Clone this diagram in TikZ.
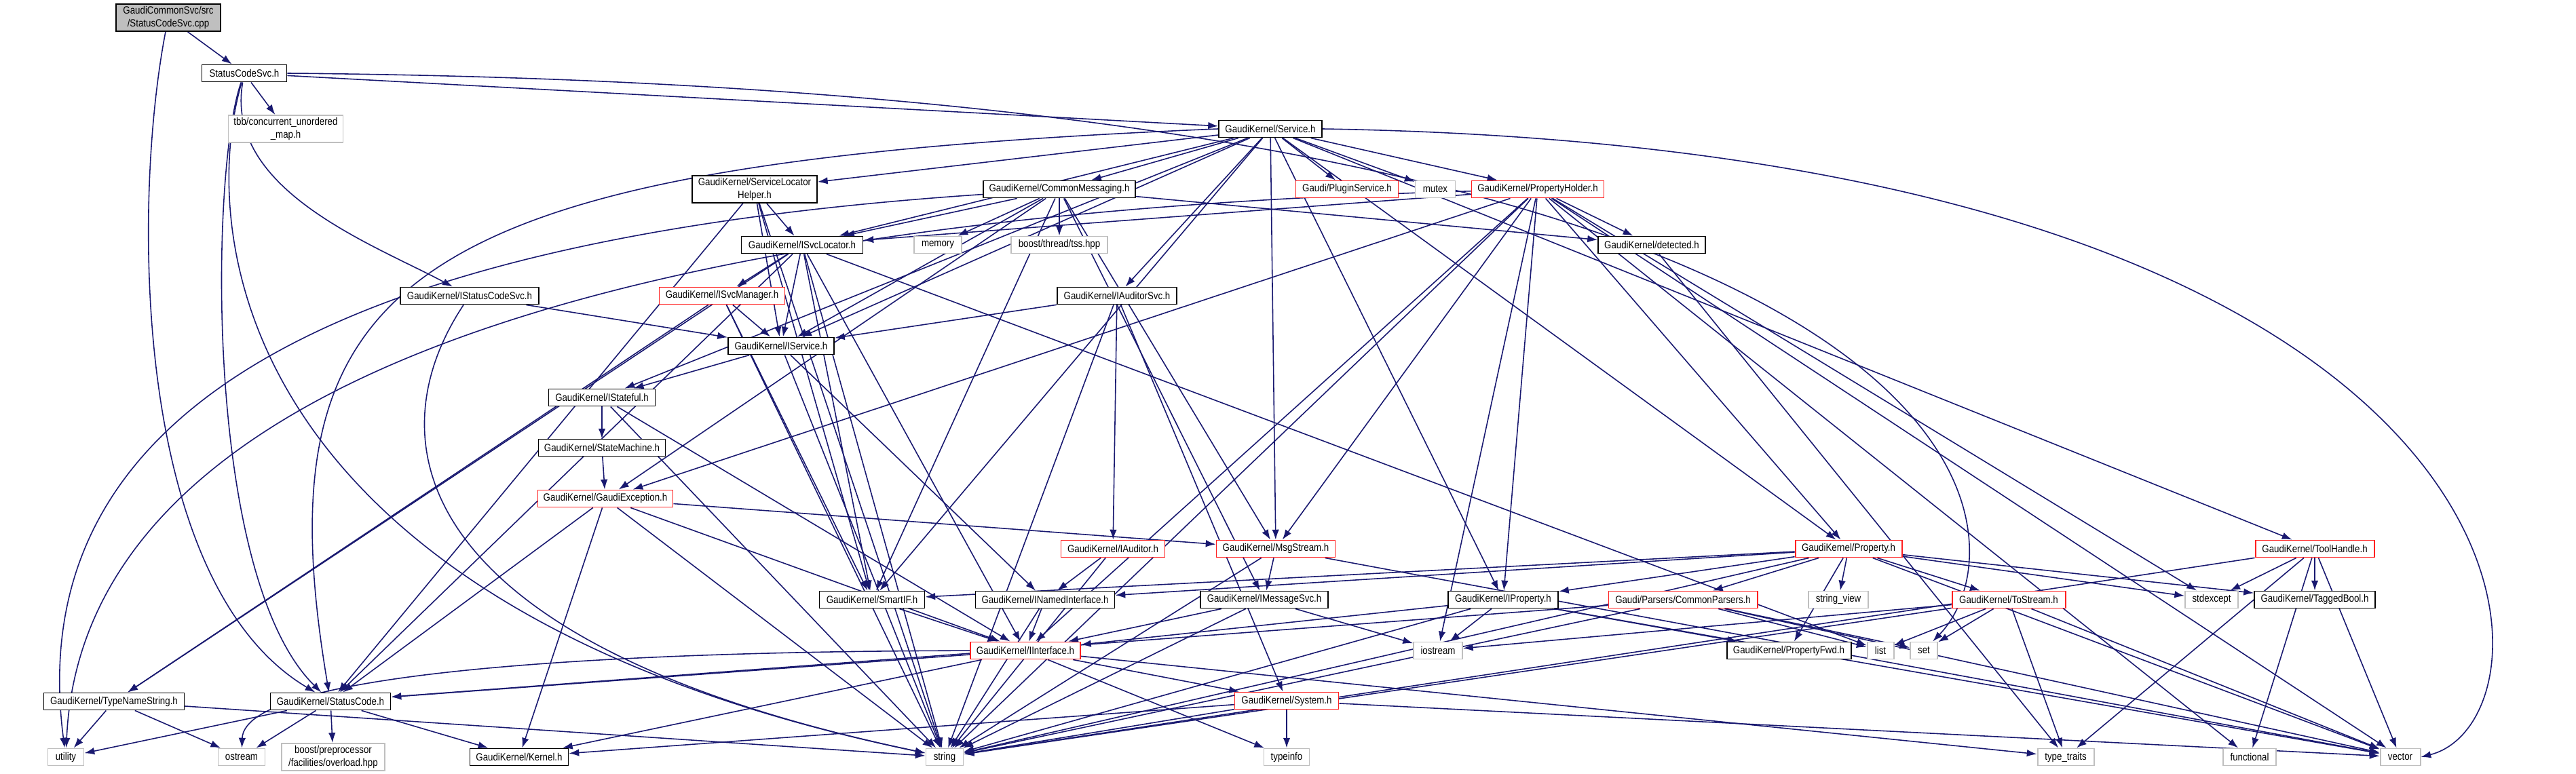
\documentclass[tikz,border=0pt]{standalone}
\usepackage{fontspec}
\setmainfont{Liberation Sans}[FakeStretch=0.86]
\usetikzlibrary{arrows.meta,backgrounds}
\definecolor{navy}{HTML}{191970}
\definecolor{grey75}{HTML}{BFBFBF}
\definecolor{truncred}{HTML}{FF2020}

\begin{document}
\begin{tikzpicture}
	\tikzstyle{box} = [rectangle, fill=white, line width=0.55pt, inner sep=0pt, minimum height=0.25cm, align=center, font=\fontsize{4.4}{5.2}\selectfont]
	\tikzstyle{hdr} = [box, draw=black]
	\tikzstyle{trunc} = [box, draw=truncred]
	\tikzstyle{sys} = [box, draw=grey75]
	\tikzstyle{root} = [box, draw=black, fill=grey75]
	\tikzstyle{dep} = [draw=navy, line width=0.45pt, -{Latex[length=4.2pt,width=3pt]}]
	\useasboundingbox (0,0) rectangle (37.96,-11.41);
	% files
	\node[root, minimum width=1.54cm, minimum height=0.40cm] (cpp) at (2.48, -0.26) {GaudiCommonSvc/src\\/StatusCodeSvc.cpp};
	\node[hdr, minimum width=1.25cm] (scsvc) at (3.60, -1.08) {StatusCodeSvc.h};
	\node[sys, minimum width=1.69cm, minimum height=0.40cm] (tbb) at (4.21, -1.90) {tbb/concurrent\_unordered\\\_map.h};
	\node[hdr, minimum width=1.52cm] (service) at (18.72, -1.90) {GaudiKernel/Service.h};
	\node[hdr, minimum width=1.84cm, minimum height=0.40cm] (slh) at (11.12, -2.79) {GaudiKernel/ServiceLocator\\Helper.h};
	\node[hdr, minimum width=2.24cm] (commsg) at (15.61, -2.79) {GaudiKernel/CommonMessaging.h};
	\node[trunc, minimum width=1.51cm] (plugin) at (19.85, -2.79) {Gaudi/PluginService.h};
	\node[sys, minimum width=0.59cm] (mutex) at (21.15, -2.79) {mutex};
	\node[trunc, minimum width=1.95cm] (propholder) at (22.66, -2.79) {GaudiKernel/PropertyHolder.h};
	\node[hdr, minimum width=1.79cm] (isvcloc) at (11.82, -3.61) {GaudiKernel/ISvcLocator.h};
	\node[sys, minimum width=0.70cm] (memory) at (13.82, -3.61) {memory};
	\node[sys, minimum width=1.42cm] (tss) at (15.61, -3.61) {boost/thread/tss.hpp};
	\node[hdr, minimum width=1.58cm] (detected) at (24.34, -3.61) {GaudiKernel/detected.h};
	\node[hdr, minimum width=2.04cm] (istatus) at (6.92, -4.36) {GaudiKernel/IStatusCodeSvc.h};
	\node[trunc, minimum width=1.85cm] (isvcmgr) at (10.64, -4.36) {GaudiKernel/ISvcManager.h};
	\node[hdr, minimum width=1.76cm] (iauditorsvc) at (16.46, -4.36) {GaudiKernel/IAuditorSvc.h};
	\node[hdr, minimum width=1.56cm] (iservice) at (11.51, -5.10) {GaudiKernel/IService.h};
	\node[hdr, minimum width=1.57cm] (istateful) at (8.87, -5.86) {GaudiKernel/IStateful.h};
	\node[hdr, minimum width=1.87cm] (statemachine) at (8.87, -6.60) {GaudiKernel/StateMachine.h};
	\node[trunc, minimum width=1.99cm] (gexception) at (8.92, -7.35) {GaudiKernel/GaudiException.h};
	\node[trunc, minimum width=1.53cm] (iauditor) at (16.40, -8.09) {GaudiKernel/IAuditor.h};
	\node[trunc, minimum width=1.75cm] (msgstream) at (18.80, -8.09) {GaudiKernel/MsgStream.h};
	\node[trunc, minimum width=1.57cm] (property) at (27.24, -8.09) {GaudiKernel/Property.h};
	\node[trunc, minimum width=1.75cm] (toolhandle) at (34.11, -8.09) {GaudiKernel/ToolHandle.h};
	\node[hdr, minimum width=1.55cm] (smartif) at (12.85, -8.84) {GaudiKernel/SmartIF.h};
	\node[hdr, minimum width=2.05cm] (inamed) at (15.40, -8.84) {GaudiKernel/INamedInterface.h};
	\node[hdr, minimum width=1.88cm] (imsgsvc) at (18.63, -8.84) {GaudiKernel/IMessageSvc.h};
	\node[hdr, minimum width=1.62cm] (iproperty) at (22.15, -8.84) {GaudiKernel/IProperty.h};
	\node[trunc, minimum width=2.19cm] (parsers) at (24.80, -8.84) {Gaudi/Parsers/CommonParsers.h};
	\node[sys, minimum width=0.88cm] (stringview) at (27.09, -8.84) {string\_view};
	\node[trunc, minimum width=1.67cm] (tostream) at (29.60, -8.84) {GaudiKernel/ToStream.h};
	\node[sys, minimum width=0.78cm] (stdexcept) at (32.59, -8.84) {stdexcept};
	\node[hdr, minimum width=1.78cm] (taggedbool) at (34.11, -8.84) {GaudiKernel/TaggedBool.h};
	\node[trunc, minimum width=1.62cm] (iinterface) at (15.11, -9.59) {GaudiKernel/IInterface.h};
	\node[sys, minimum width=0.72cm] (iostream) at (21.19, -9.59) {iostream};
	\node[hdr, minimum width=1.83cm] (propfwd) at (26.36, -9.59) {GaudiKernel/PropertyFwd.h};
	\node[sys, minimum width=0.39cm] (list) at (27.71, -9.59) {list};
	\node[sys, minimum width=0.40cm] (set) at (28.35, -9.59) {set};
	\node[hdr, minimum width=2.07cm] (typename) at (1.68, -10.34) {GaudiKernel/TypeNameString.h};
	\node[hdr, minimum width=1.77cm] (statuscode) at (4.87, -10.34) {GaudiKernel/StatusCode.h};
	\node[trunc, minimum width=1.53cm] (system) at (18.96, -10.33) {GaudiKernel/System.h};
	\node[sys, minimum width=0.53cm] (utility) at (0.97, -11.16) {utility};
	\node[sys, minimum width=0.69cm] (ostream) at (3.56, -11.16) {ostream};
	\node[sys, minimum width=1.52cm, minimum height=0.40cm] (overload) at (4.91, -11.16) {boost/preprocessor\\/facilities/overload.hpp};
	\node[hdr, minimum width=1.45cm] (kernel) at (7.65, -11.16) {GaudiKernel/Kernel.h};
	\node[sys, minimum width=0.55cm] (string) at (13.92, -11.16) {string};
	\node[sys, minimum width=0.67cm] (typeinfo) at (18.96, -11.16) {typeinfo};
	\node[sys, minimum width=0.83cm] (typetraits) at (30.44, -11.16) {type\_traits};
	\node[sys, minimum width=0.78cm] (functional) at (33.15, -11.16) {functional};
	\node[sys, minimum width=0.59cm] (vector) at (35.37, -11.16) {vector};
	% includes
	\begin{pgfonlayer}{background}
	\draw [dep] (cpp)--(scsvc);
	\draw [dep] (cpp) .. controls (1.95,-3.0) and (1.95,-8.6) .. (statuscode);
	\draw [dep] (scsvc)--(tbb);
	\draw [dep] (scsvc) .. controls (3.3,-2.8) and (5.5,-3.6) .. (istatus);
	\draw [dep] (scsvc)--(service);
	\draw [dep] (scsvc) .. controls (3.1,-2.5) and (3.0,-8.5) .. (statuscode);
	\draw [dep] (scsvc) .. controls (2.9,-3.5) and (3.5,-9.0) .. (string);
	\draw [dep] (scsvc.east) .. controls (29.9,-1.3) and (29.9,-8.0) .. (set);
	\draw [dep] (istatus)--(iservice);
	\draw [dep] (istatus) .. controls (5.5,-6.5) and (6.0,-9.5) .. (string);
	\draw [dep] (service)--(slh);
	\draw [dep] (service)--(commsg);
	\draw [dep] (service)--(isvcloc);
	\draw [dep] (service)--(plugin);
	\draw [dep] (service)--(mutex);
	\draw [dep] (service)--(propholder);
	\draw [dep] (service)--(istateful);
	\draw [dep] (service)--(iservice);
	\draw [dep] (service)--(iauditorsvc);
	\draw [dep] (service)--(smartif);
	\draw [dep] (service)--(iproperty);
	\draw [dep] (service)--(property);
	\draw [dep] (service)--(toolhandle);
	\draw [dep] (service)--(msgstream);
	\draw [dep] (service.west) .. controls (6.0,-2.4) and (3.8,-4.0) .. (statuscode);
	\draw [dep] (service.east) .. controls (37.9,-2.2) and (37.9,-10.6) .. (vector.east);
	\draw [dep] (slh)--(isvcloc);
	\draw [dep] (slh)--(iservice);
	\draw [dep] (slh)--(smartif);
	\draw [dep] (slh)--(string);
	\draw [dep] (slh)--(statuscode);
	\draw [dep] (commsg)--(isvcloc);
	\draw [dep] (commsg)--(iservice);
	\draw [dep] (commsg)--(memory);
	\draw [dep] (commsg)--(tss);
	\draw [dep] (commsg)--(detected);
	\draw [dep] (commsg)--(gexception);
	\draw [dep] (commsg)--(msgstream);
	\draw [dep] (commsg)--(smartif);
	\draw [dep] (commsg)--(imsgsvc);
	\draw [dep] (commsg) .. controls (5.0,-3.5) and (0.3,-6.0) .. (utility);
	\draw [dep] (propholder)--(isvcloc);
	\draw [dep] (propholder)--(iproperty);
	\draw [dep] (propholder)--(property);
	\draw [dep] (propholder)--(detected);
	\draw [dep] (propholder)--(gexception);
	\draw [dep] (propholder)--(iinterface);
	\draw [dep] (propholder)--(msgstream);
	\draw [dep] (propholder)--(iostream);
	\draw [dep] (propholder)--(string);
	\draw [dep] (propholder)--(stdexcept);
	\draw [dep] (propholder)--(vector);
	\draw [dep] (propholder)--(functional);
	\draw [dep] (propholder) .. controls (8.0,-3.2) and (1.2,-6.0) .. (utility);
	\draw [dep] (isvcloc)--(isvcmgr);
	\draw [dep] (isvcloc)--(iservice);
	\draw [dep] (isvcloc)--(smartif);
	\draw [dep] (isvcloc)--(iinterface);
	\draw [dep] (isvcloc)--(statuscode);
	\draw [dep] (isvcloc)--(typename);
	\draw [dep] (isvcloc)--(string);
	\draw [dep] (isvcloc)--(list);
	\draw [dep] (isvcmgr)--(iservice);
	\draw [dep] (isvcmgr)--(smartif);
	\draw [dep] (isvcmgr)--(typename);
	\draw [dep] (isvcmgr)--(string);
	\draw [dep] (iservice)--(istateful);
	\draw [dep] (iservice)--(inamed);
	\draw [dep] (iservice)--(string);
	\draw [dep] (istateful)--(statemachine);
	\draw [dep] (istateful)--(iinterface);
	\draw [dep] (istateful)--(string);
	\draw [dep] (statemachine)--(gexception);
	\draw [dep] (gexception)--(msgstream);
	\draw [dep] (gexception)--(statuscode);
	\draw [dep] (gexception)--(kernel);
	\draw [dep] (gexception)--(string);
	\draw [dep] (gexception)--(iinterface);
	\draw [dep] (iauditorsvc)--(iservice);
	\draw [dep] (iauditorsvc)--(iauditor);
	\draw [dep] (iauditorsvc)--(string);
	\draw [dep] (iauditorsvc)--(system);
	\draw [dep] (iauditor)--(inamed);
	\draw [dep] (iauditor)--(string);
	\draw [dep] (msgstream)--(imsgsvc);
	\draw [dep] (msgstream)--(string);
	\draw [dep] (msgstream)--(vector);
	\draw [dep] (imsgsvc)--(iinterface);
	\draw [dep] (imsgsvc)--(string);
	\draw [dep] (imsgsvc)--(iostream);
	\draw [dep] (smartif)--(iinterface);
	\draw [dep] (inamed)--(iinterface);
	\draw [dep] (inamed)--(string);
	\draw [dep] (iinterface)--(statuscode);
	\draw [dep] (iinterface)--(kernel);
	\draw [dep] (iinterface)--(system);
	\draw [dep] (iinterface)--(typeinfo);
	\draw [dep] (iinterface) .. controls (9.0,-9.6) and (3.6,-9.9) .. (ostream);
	\draw [dep] (iinterface)--(typetraits);
	\draw [dep] (statuscode)--(utility);
	\draw [dep] (statuscode)--(ostream);
	\draw [dep] (statuscode)--(overload);
	\draw [dep] (statuscode)--(kernel);
	\draw [dep] (typename)--(utility);
	\draw [dep] (typename)--(ostream);
	\draw [dep] (typename)--(string);
	\draw [dep] (system)--(kernel);
	\draw [dep] (system)--(string);
	\draw [dep] (system)--(typeinfo);
	\draw [dep] (system)--(vector);
	\draw [dep] (property)--(iproperty);
	\draw [dep] (property)--(parsers);
	\draw [dep] (property)--(stringview);
	\draw [dep] (property)--(tostream);
	\draw [dep] (property)--(propfwd);
	\draw [dep] (property)--(smartif);
	\draw [dep] (property)--(inamed);
	\draw [dep] (property)--(stdexcept);
	\draw [dep] (property)--(taggedbool);
	\draw [dep] (property)--(string);
	\draw [dep] (property)--(vector);
	\draw [dep] (iproperty)--(iinterface);
	\draw [dep] (iproperty)--(iostream);
	\draw [dep] (iproperty)--(string);
	\draw [dep] (iproperty)--(vector);
	\draw [dep] (iproperty)--(propfwd);
	\draw [dep] (parsers)--(statuscode);
	\draw [dep] (parsers)--(string);
	\draw [dep] (parsers)--(vector);
	\draw [dep] (parsers)--(list);
	\draw [dep] (parsers)--(set);
	\draw [dep] (tostream)--(iostream);
	\draw [dep] (tostream)--(list);
	\draw [dep] (tostream)--(set);
	\draw [dep] (tostream)--(string);
	\draw [dep] (tostream)--(typetraits);
	\draw [dep] (tostream)--(vector);
	\draw [dep] (toolhandle)--(stdexcept);
	\draw [dep] (toolhandle)--(taggedbool);
	\draw [dep] (toolhandle)--(typetraits);
	\draw [dep] (toolhandle)--(functional);
	\draw [dep] (toolhandle)--(vector);
	\draw [dep] (toolhandle)--(string);
	\draw [dep] (detected)--(typetraits);
	\end{pgfonlayer}
\end{tikzpicture}
\end{document}
